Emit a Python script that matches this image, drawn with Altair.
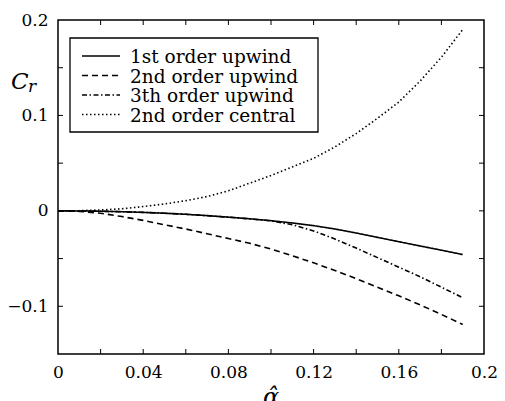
import altair as alt
import pandas as pd

# Reduced wavenumber alpha-hat
alpha = [0.00, 0.01, 0.02, 0.03, 0.04, 0.05, 0.06, 0.07, 0.08, 0.09,
         0.10, 0.11, 0.12, 0.13, 0.14, 0.15, 0.16, 0.17, 0.18, 0.19]

# Real part of the amplification error C_r for each scheme
cr_upwind1 = [0.0, -0.0001, -0.0004, -0.0009, -0.0016, -0.0025, -0.0036, -0.0050, -0.0066, -0.0083,
              -0.0103, -0.0127, -0.0155, -0.0190, -0.0232, -0.0278, -0.0323, -0.0368, -0.0412, -0.0458]
cr_upwind2 = [0.0, -0.0005, -0.0025, -0.0060, -0.0100, -0.0146, -0.0190, -0.0240, -0.0290, -0.0340,
              -0.0400, -0.0470, -0.0545, -0.0625, -0.0710, -0.0800, -0.0890, -0.0985, -0.1085, -0.1190]
cr_upwind3 = [0.0, -0.0001, -0.0004, -0.0009, -0.0016, -0.0025, -0.0036, -0.0050, -0.0066, -0.0084,
              -0.0105, -0.0145, -0.0210, -0.0295, -0.0390, -0.0490, -0.0590, -0.0690, -0.0800, -0.0910]
cr_central2 = [0.0, 0.0002, 0.0009, 0.0022, 0.0045, 0.0072, 0.0107, 0.0150, 0.0210, 0.0290,
               0.0370, 0.0460, 0.0550, 0.0670, 0.0810, 0.0970, 0.1140, 0.1360, 0.1610, 0.1900]

series_names = ["1st order upwind", "2nd order upwind", "3th order upwind", "2nd order central"]
series_values = [cr_upwind1, cr_upwind2, cr_upwind3, cr_central2]
dash_patterns = [[1, 0], [6, 4], [5, 2.5, 1.5, 2.5], [1.5, 2.5]]

x_tick_labels = [0, 0.04, 0.08, 0.12, 0.16, 0.2]
x_minor = [0.02, 0.04, 0.06, 0.08, 0.10, 0.12, 0.14, 0.16, 0.18]
y_tick_labels = [-0.1, 0, 0.1, 0.2]
y_minor = [-0.1, -0.05, 0, 0.05, 0.1, 0.15]

W, H = 426, 334
FONT = "DejaVu Serif"
TICK = 5

rows = []
for name, vals in zip(series_names, series_values):
    for a, v in zip(alpha, vals):
        rows.append({"alpha": a, "cr": v, "scheme": name})
df = pd.DataFrame(rows)

xscale = alt.Scale(domain=[0, 0.2], nice=False, zero=False)
yscale = alt.Scale(domain=[-0.15, 0.2], nice=False, zero=False)

curves = alt.Chart(df).mark_line(color="black", strokeWidth=1.6, strokeCap="butt").encode(
    x=alt.X("alpha:Q", scale=xscale,
            axis=alt.Axis(values=x_tick_labels, format="~g", title=None, domain=False,
                          ticks=False, grid=False, labelFont=FONT, labelFontSize=17,
                          labelColor="black", labelPadding=10, labelFlush=False)),
    y=alt.Y("cr:Q", scale=yscale,
            axis=alt.Axis(values=y_tick_labels, format="~g", title=None, domain=False,
                          ticks=False, grid=False, labelFont=FONT, labelFontSize=17,
                          labelColor="black", labelPadding=10, labelFlush=False)),
    strokeDash=alt.StrokeDash("scheme:N",
                              scale=alt.Scale(domain=series_names, range=dash_patterns),
                              legend=None),
    detail="scheme:N",
)

xt = pd.DataFrame({"t": x_minor})
yt = pd.DataFrame({"t": y_minor})

ticks_bottom = alt.Chart(xt).mark_rule(color="black", strokeWidth=1).encode(
    x=alt.X("t:Q", scale=xscale), y=alt.value(H), y2=alt.value(H - TICK))
ticks_top = alt.Chart(xt).mark_rule(color="black", strokeWidth=1).encode(
    x=alt.X("t:Q", scale=xscale), y=alt.value(0), y2=alt.value(TICK))
ticks_left = alt.Chart(yt).mark_rule(color="black", strokeWidth=1).encode(
    y=alt.Y("t:Q", scale=yscale), x=alt.value(0), x2=alt.value(TICK))
ticks_right = alt.Chart(yt).mark_rule(color="black", strokeWidth=1).encode(
    y=alt.Y("t:Q", scale=yscale), x=alt.value(W), x2=alt.value(W - TICK))

# Legend box with line samples and labels
legend_box = alt.Chart(pd.DataFrame({"k": [0]})).mark_rect(
    fill="white", stroke="black", strokeWidth=1.3).encode(
    x=alt.value(12), x2=alt.value(260), y=alt.value(18), y2=alt.value(112))

legend_layers = [legend_box]
for i, (name, dash) in enumerate(zip(series_names, dash_patterns)):
    ry = 36 + i * 19.5
    legend_layers.append(
        alt.Chart(pd.DataFrame({"k": [0]})).mark_rule(
            color="black", strokeWidth=1.5, strokeDash=dash, strokeCap="butt").encode(
            x=alt.value(24), x2=alt.value(62), y=alt.value(ry)))
    legend_layers.append(
        alt.Chart(pd.DataFrame({"k": [0]})).mark_text(
            font=FONT, fontSize=18.5, align="left", baseline="middle", color="black").encode(
            x=alt.value(72), y=alt.value(ry + 1), text=alt.value(name)))

# Axis titles: C_r on the left, alpha-hat below
ylab_c = alt.Chart(pd.DataFrame({"k": [0]})).mark_text(
    font=FONT, fontSize=23, fontStyle="italic", align="left", baseline="alphabetic",
    color="black").encode(x=alt.value(-47), y=alt.value(69), text=alt.value("C"))
ylab_r = alt.Chart(pd.DataFrame({"k": [0]})).mark_text(
    font=FONT, fontSize=17, fontStyle="italic", align="left", baseline="alphabetic",
    color="black").encode(x=alt.value(-30), y=alt.value(72), text=alt.value("r"))
xlab = alt.Chart(pd.DataFrame({"k": [0]})).mark_text(
    font=FONT, fontSize=24, fontStyle="italic", align="center", baseline="alphabetic",
    color="black").encode(x=alt.value(W / 2), y=alt.value(H + 51), text=alt.value("α\u0302"))

chart = alt.layer(
    curves, ticks_bottom, ticks_top, ticks_left, ticks_right,
    *legend_layers, ylab_c, ylab_r, xlab
).properties(
    width=W, height=H,
    autosize=alt.AutoSizeParams(type="none"),
    padding={"left": 58, "top": 20, "right": 21, "bottom": 47},
    background="white",
).configure_view(stroke="black", strokeWidth=1.5)

chart.save("out.html", embed_options={"renderer": "svg", "actions": False})
